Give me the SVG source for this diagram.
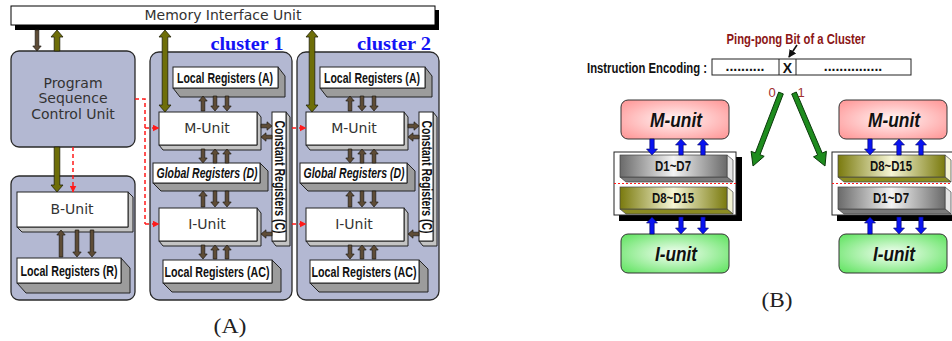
<svg xmlns="http://www.w3.org/2000/svg" width="952" height="341" viewBox="0 0 952 341">
<defs>
<style>
.unit{fill:#fff;stroke:#222;stroke-width:1}
.ext{fill:#9c9c9c;stroke:#222;stroke-width:1;stroke-linejoin:round}
.extl{fill:#c4c4c4;stroke:#222;stroke-width:1;stroke-linejoin:round}
.panel{fill:#b3b8d2;stroke:#2a2a2a;stroke-width:1.3}
.lbl{font-family:"DejaVu Sans",Verdana,sans-serif;font-size:14px;fill:#333;text-anchor:middle}
.reg{font-family:"Liberation Sans",Arial,sans-serif;font-weight:bold;font-size:14px;fill:#111;text-anchor:middle}
.brown{fill:#5e4c36;stroke:#1e1a12;stroke-width:.7}
.olive{fill:#6e6e08;stroke:#22220a;stroke-width:.8}
.blue{fill:#0a14f0;stroke:#000060;stroke-width:.6}
.ctl{fill:none;stroke:#ff1a1a;stroke-width:1.5;stroke-dasharray:4 3}
.cl{font-family:"Liberation Serif","Times New Roman",serif;font-weight:bold;font-size:18px;fill:#1414f5;text-anchor:middle}
.cap{font-family:"Liberation Serif","Times New Roman",serif;font-size:20px;fill:#222;text-anchor:middle}
.fu{font-family:"Liberation Sans",Arial,sans-serif;font-weight:bold;font-style:italic;font-size:20px;fill:#111;text-anchor:middle}
.green{fill:#1e8c1e;stroke:#0a3a0a;stroke-width:1;stroke-linejoin:round}
.bit{font-family:"Liberation Sans",Arial,sans-serif;font-size:13px;fill:#a03030;text-anchor:middle}
</style>
<marker id="rh" markerWidth="7" markerHeight="7" refX="6.5" refY="3.5" orient="auto" markerUnits="userSpaceOnUse"><path d="M0,0 L7,3.5 L0,7 z" fill="#ff1a1a"/></marker>
<marker id="kh" markerWidth="8" markerHeight="8" refX="7" refY="4" orient="auto" markerUnits="userSpaceOnUse"><path d="M0,0 L8,4 L0,8 z" fill="#111"/></marker>
<!-- brown bus arrows: d = down (tip at bottom), u = up (tip at origin) -->
<path id="bd14" class="brown" d="M-1.8,0 h3.6 v9 h2.4 l-4.2,5 l-4.2,-5 h2.4 z"/>
<path id="bu14" class="brown" d="M0,0 l4.2,5 h-2.4 v9 h-3.6 v-9 h-2.4 z"/>
<path id="bd15" class="brown" d="M-1.8,0 h3.6 v10 h2.4 l-4.2,5 l-4.2,-5 h2.4 z"/>
<path id="bu15" class="brown" d="M0,0 l4.2,5 h-2.4 v10 h-3.6 v-10 h-2.4 z"/>
<path id="bd16" class="brown" d="M-1.8,0 h3.6 v11 h2.4 l-4.2,5 l-4.2,-5 h2.4 z"/>
<path id="bu16" class="brown" d="M0,0 l4.2,5 h-2.4 v11 h-3.6 v-11 h-2.4 z"/>
<path id="bd27" class="brown" d="M-1.8,0 h3.6 v22 h2.4 l-4.2,5 l-4.2,-5 h2.4 z"/>
<path id="bu27" class="brown" d="M0,0 l4.2,5 h-2.4 v22 h-3.6 v-22 h-2.4 z"/>
<path id="br11" class="brown" d="M0,0 l-5,-4.2 v2.4 h-6 v3.6 h6 v2.4 z"/>
<path id="bl11" class="brown" d="M0,0 l5,-4.2 v2.4 h6 v3.6 h-6 v2.4 z"/>
<!-- blue register-port arrows -->
<path id="qd16" class="blue" d="M-2.2,0 h4.4 v10 h3.3 l-5.5,6 l-5.5,-6 h3.3 z"/>
<path id="qu16" class="blue" d="M0,0 l5.5,6 h-3.3 v10 h-4.4 v-10 h-3.3 z"/>
<path id="qd17" class="blue" d="M-2.2,0 h4.4 v11 h3.3 l-5.5,6 l-5.5,-6 h3.3 z"/>
<path id="qu17" class="blue" d="M0,0 l5.5,6 h-3.3 v11 h-4.4 v-11 h-3.3 z"/>
<linearGradient id="gGray" x1="0" y1="0" x2="1" y2="0"><stop offset="0" stop-color="#6a6a6a"/><stop offset=".5" stop-color="#f4f4f4"/><stop offset="1" stop-color="#6a6a6a"/></linearGradient>
<linearGradient id="gOlive" x1="0" y1="0" x2="1" y2="0"><stop offset="0" stop-color="#7a7a0e"/><stop offset=".5" stop-color="#f6f6d6"/><stop offset="1" stop-color="#7a7a0e"/></linearGradient>
<radialGradient id="gPink" cx=".5" cy=".5" r=".65"><stop offset="0" stop-color="#fff6f6"/><stop offset="1" stop-color="#ff9a9a"/></radialGradient>
<radialGradient id="gGreen" cx=".5" cy=".5" r=".65"><stop offset="0" stop-color="#f6fff6"/><stop offset="1" stop-color="#66e466"/></radialGradient>
</defs>

<rect width="952" height="341" fill="#fff"/>

<!-- ===== (A) processor organisation ===== -->
<g id="memory-interface-unit">
<rect x="15" y="10" width="424" height="20" fill="#000"/>
<rect x="11" y="6" width="424" height="19" fill="#fff" stroke="#000"/>
<text class="lbl" x="223" y="20">Memory Interface Unit</text>
</g>

<g id="program-sequence-control-unit">
<rect class="panel" x="11" y="51" width="124" height="96" rx="8"/>
<text class="lbl" x="73" y="88">Program</text>
<text class="lbl" x="73" y="103">Sequence</text>
<text class="lbl" x="73" y="119">Control Unit</text>
</g>

<g id="branch-cluster">
<rect class="panel" x="11" y="176" width="124" height="124" rx="8"/>
</g>
<g id="b-unit">
<polygon class="extl" points="128,192 133,197 133,232 22,232 17,227 128,227"/>
<rect class="unit" x="17" y="192" width="111" height="35"/>
<text class="lbl" x="72" y="214">B-Unit</text>
</g>
<g id="local-registers-r">
<polygon class="ext" points="121,258 130,268 130,293 26,293 17,283 121,283"/>
<rect class="unit" x="17" y="258" width="104" height="25"/>
<text class="reg" x="69" y="276" textLength="97" lengthAdjust="spacingAndGlyphs">Local Registers (R)</text>
</g>

<!-- cluster 1 -->
<text class="cl" x="247" y="50" textLength="73" lengthAdjust="spacingAndGlyphs">cluster 1</text>
<g id="cluster-1">
<rect class="panel" x="150" y="52" width="142" height="248" rx="9"/>
</g>
<g id="c1-local-registers-a">
<polygon class="ext" points="278,67 285,76 285,97 180,97 173,88 278,88"/>
<rect class="unit" x="173" y="67" width="105" height="21"/>
<text class="reg" x="225" y="83" textLength="96" lengthAdjust="spacingAndGlyphs">Local Registers (A)</text>
</g>
<g id="c1-m-unit">
<polygon class="extl" points="257,112 261,117 261,150 163,150 159,145 257,145"/>
<rect class="unit" x="159" y="112" width="98" height="33"/>
<text class="lbl" x="207" y="133">M-Unit</text>
</g>
<g id="c1-global-registers-d">
<polygon class="ext" points="260,163 268,171 268,191 161,191 153,183 260,183"/>
<rect class="unit" x="153" y="163" width="107" height="20"/>
<text class="reg" x="207" y="178" font-style="italic" textLength="101" lengthAdjust="spacingAndGlyphs">Global Registers (D)</text>
</g>
<g id="c1-i-unit">
<polygon class="extl" points="257,208 261,213 261,246 163,246 159,241 257,241"/>
<rect class="unit" x="159" y="208" width="98" height="33"/>
<text class="lbl" x="207" y="229">I-Unit</text>
</g>
<g id="c1-local-registers-ac">
<polygon class="ext" points="272,260 281,269 281,292 172,292 163,283 272,283"/>
<rect class="unit" x="163" y="260" width="109" height="23"/>
<text class="reg" x="217" y="277" textLength="105" lengthAdjust="spacingAndGlyphs">Local Registers (AC)</text>
</g>
<g id="c1-constant-registers-c">
<polygon class="extl" points="286,112 290,117 290,246 276,246 272,241 286,241"/>
<rect class="unit" x="272" y="112" width="14" height="129"/>
<text class="reg" transform="translate(279.5,177) rotate(90)" x="0" y="5" textLength="113" lengthAdjust="spacingAndGlyphs">Constant Registers (C)</text>
</g>

<!-- cluster 2 -->
<text class="cl" x="394" y="50" textLength="74" lengthAdjust="spacingAndGlyphs">cluster 2</text>
<g id="cluster-2">
<rect class="panel" x="297" y="52" width="142" height="248" rx="9"/>
</g>
<g id="c2-local-registers-a" transform="translate(147,0)">
<polygon class="ext" points="278,67 285,76 285,97 180,97 173,88 278,88"/>
<rect class="unit" x="173" y="67" width="105" height="21"/>
<text class="reg" x="225" y="83" textLength="96" lengthAdjust="spacingAndGlyphs">Local Registers (A)</text>
</g>
<g id="c2-m-unit" transform="translate(147,0)">
<polygon class="extl" points="257,112 261,117 261,150 163,150 159,145 257,145"/>
<rect class="unit" x="159" y="112" width="98" height="33"/>
<text class="lbl" x="207" y="133">M-Unit</text>
</g>
<g id="c2-global-registers-d" transform="translate(147,0)">
<polygon class="ext" points="260,163 268,171 268,191 161,191 153,183 260,183"/>
<rect class="unit" x="153" y="163" width="107" height="20"/>
<text class="reg" x="207" y="178" font-style="italic" textLength="101" lengthAdjust="spacingAndGlyphs">Global Registers (D)</text>
</g>
<g id="c2-i-unit" transform="translate(147,0)">
<polygon class="extl" points="257,208 261,213 261,246 163,246 159,241 257,241"/>
<rect class="unit" x="159" y="208" width="98" height="33"/>
<text class="lbl" x="207" y="229">I-Unit</text>
</g>
<g id="c2-local-registers-ac" transform="translate(147,0)">
<polygon class="ext" points="272,260 281,269 281,292 172,292 163,283 272,283"/>
<rect class="unit" x="163" y="260" width="109" height="23"/>
<text class="reg" x="217" y="277" textLength="105" lengthAdjust="spacingAndGlyphs">Local Registers (AC)</text>
</g>
<g id="c2-constant-registers-c" transform="translate(147,0)">
<polygon class="extl" points="286,112 290,117 290,246 276,246 272,241 286,241"/>
<rect class="unit" x="272" y="112" width="14" height="129"/>
<text class="reg" transform="translate(279.5,177) rotate(90)" x="0" y="5" textLength="113" lengthAdjust="spacingAndGlyphs">Constant Registers (C)</text>
</g>

<g id="connectors-a">
<!-- memory buses -->
<path class="brown" d="M35.2,30 h3.6 v16 h2.4 l-4.2,5 l-4.2,-5 h2.4 z"/>
<path class="olive" d="M57,30 l6,7 h-3.2 v14 h-5.6 v-14 h-3.2 z"/>
<path class="olive" d="M54.2,147 h5.6 v38 h3.2 l-6,7 l-6,-7 h3.2 z"/>
<path class="olive" d="M165,30 l6,7 h-3.2 v68 h3.2 l-6,7 l-6,-7 h3.2 v-68 h-3.2 z"/>
<path class="olive" d="M312,30 l6,7 h-3.2 v68 h3.2 l-6,7 l-6,-7 h3.2 v-68 h-3.2 z"/>
<!-- B-Unit / Local Registers (R) -->
<use href="#bu27" x="61" y="230"/>
<use href="#bd27" x="77" y="230"/>
<use href="#bd27" x="92" y="230"/>
<!-- cluster register ports -->
<g id="ports-c1">
<use href="#bu15" x="203" y="96"/>
<use href="#bd15" x="215" y="96"/>
<use href="#bd15" x="227" y="96"/>
<use href="#bd14" x="203" y="149"/>
<use href="#bu14" x="215" y="149"/>
<use href="#bu14" x="227" y="149"/>
<use href="#bu16" x="203" y="191"/>
<use href="#bd16" x="215" y="191"/>
<use href="#bd16" x="227" y="191"/>
<use href="#bd14" x="203" y="245"/>
<use href="#bu14" x="215" y="245"/>
<use href="#bu14" x="227" y="245"/>
<use href="#br11" x="272" y="126"/>
<use href="#bl11" x="261" y="137"/>
<use href="#bl11" x="261" y="234"/>
</g>
<use href="#ports-c1" transform="translate(147,0)"/>
<!-- control signals -->
<path class="ctl" d="M135,99 H145 V224"/>
<path class="ctl" d="M145,128 H159" marker-end="url(#rh)"/>
<path class="ctl" d="M145,224 H159" marker-end="url(#rh)"/>
<path class="ctl" d="M73,147 V192" marker-end="url(#rh)"/>
<path class="ctl" d="M292,128 H306" marker-end="url(#rh)"/>
<path class="ctl" d="M292,224 H306" marker-end="url(#rh)"/>
</g>

<text class="cap" x="230" y="333" textLength="33" lengthAdjust="spacingAndGlyphs">(A)</text>

<!-- ===== (B) ping-pong register assignment ===== -->
<g id="instruction-encoding">
<text class="reg" x="647" y="73" textLength="120" lengthAdjust="spacingAndGlyphs">Instruction Encoding :</text>
<rect x="712" y="59" width="199" height="16" fill="#fff" stroke="#222"/>
<line x1="779" y1="59" x2="779" y2="75" stroke="#222"/>
<line x1="796" y1="59" x2="796" y2="75" stroke="#222"/>
<text class="reg" x="745" y="71" font-weight="normal" font-size="11">..........</text>
<text class="reg" x="787.5" y="72.5">X</text>
<text class="reg" x="853" y="71" font-weight="normal" font-size="11">...............</text>
</g>
<text class="reg" x="796" y="44" style="fill:#8b1616" textLength="139" lengthAdjust="spacingAndGlyphs">Ping-pong Bit of a Cluster</text>
<text class="bit" x="772" y="97">0</text>
<text class="bit" x="801" y="97">1</text>

<g id="left-m-unit">
<rect x="621" y="100" width="108" height="39" rx="7" fill="url(#gPink)" stroke="#333"/>
<text class="fu" x="676" y="127" textLength="52" lengthAdjust="spacingAndGlyphs">M-unit</text>
</g>
<g id="left-register-file">
<rect x="619" y="157" width="123" height="64" fill="#000"/>
<rect x="614" y="152" width="122" height="63" fill="#fff" stroke="#222"/>
<polygon points="727,155 733,160 733,182 727,177" fill="#e4e4e4" stroke="#444" stroke-width=".7"/>
<polygon points="620,177 727,177 733,182 626,182" fill="#7a7a7a" stroke="#444" stroke-width=".7"/>
<rect x="620" y="155" width="107" height="22" fill="url(#gGray)" stroke="#444" stroke-width=".7"/>
<text class="reg" x="673" y="171" textLength="36" lengthAdjust="spacingAndGlyphs">D1~D7</text>
<line x1="614" y1="183.5" x2="736" y2="183.5" stroke="#ff1a1a" stroke-dasharray="2 2"/>
<polygon points="727,187 733,192 733,214 727,209" fill="#f2f2d2" stroke="#444" stroke-width=".7"/>
<polygon points="620,209 727,209 733,214 626,214" fill="#8c8c22" stroke="#444" stroke-width=".7"/>
<rect x="620" y="187" width="107" height="22" fill="url(#gOlive)" stroke="#444" stroke-width=".7"/>
<text class="reg" x="673" y="203" textLength="42" lengthAdjust="spacingAndGlyphs">D8~D15</text>
</g>
<g id="left-i-unit">
<rect x="621" y="234" width="108" height="39" rx="7" fill="url(#gGreen)" stroke="#333"/>
<text class="fu" x="676" y="261" textLength="42" lengthAdjust="spacingAndGlyphs">I-unit</text>
</g>

<g id="right-m-unit">
<rect x="839" y="100" width="108" height="39" rx="7" fill="url(#gPink)" stroke="#333"/>
<text class="fu" x="894" y="127" textLength="52" lengthAdjust="spacingAndGlyphs">M-unit</text>
</g>
<g id="right-register-file">
<rect x="837" y="157" width="123" height="64" fill="#000"/>
<rect x="832" y="152" width="122" height="63" fill="#fff" stroke="#222"/>
<polygon points="945,155 951,160 951,182 945,177" fill="#f2f2d2" stroke="#444" stroke-width=".7"/>
<polygon points="838,177 945,177 951,182 844,182" fill="#8c8c22" stroke="#444" stroke-width=".7"/>
<rect x="838" y="155" width="107" height="22" fill="url(#gOlive)" stroke="#444" stroke-width=".7"/>
<text class="reg" x="891" y="171" textLength="42" lengthAdjust="spacingAndGlyphs">D8~D15</text>
<line x1="832" y1="183.5" x2="954" y2="183.5" stroke="#ff1a1a" stroke-dasharray="2 2"/>
<polygon points="945,187 951,192 951,214 945,209" fill="#e4e4e4" stroke="#444" stroke-width=".7"/>
<polygon points="838,209 945,209 951,214 844,214" fill="#7a7a7a" stroke="#444" stroke-width=".7"/>
<rect x="838" y="187" width="107" height="22" fill="url(#gGray)" stroke="#444" stroke-width=".7"/>
<text class="reg" x="891" y="203" textLength="36" lengthAdjust="spacingAndGlyphs">D1~D7</text>
</g>
<g id="right-i-unit">
<rect x="839" y="234" width="108" height="39" rx="7" fill="url(#gGreen)" stroke="#333"/>
<text class="fu" x="894" y="261" textLength="42" lengthAdjust="spacingAndGlyphs">I-unit</text>
</g>

<g id="connectors-b">
<line x1="797" y1="45" x2="789" y2="57" stroke="#111" stroke-width="1.6" marker-end="url(#kh)"/>
<polygon class="green" points="783.3,93.9 760,154.7 764.2,156.3 753,166 751.1,151.3 755.3,152.9 778.7,92.1"/>
<polygon class="green" points="796.3,92 822.2,153 826.4,151.3 825,166 813.5,156.8 817.6,155 791.7,94"/>
<use href="#qd16" x="652" y="139"/>
<use href="#qu16" x="681" y="139"/>
<use href="#qu16" x="703" y="139"/>
<use href="#qu17" x="652" y="217"/>
<use href="#qd17" x="681" y="217"/>
<use href="#qd17" x="703" y="217"/>
<use href="#qd16" x="870" y="139"/>
<use href="#qu16" x="899" y="139"/>
<use href="#qu16" x="921" y="139"/>
<use href="#qu17" x="870" y="217"/>
<use href="#qd17" x="899" y="217"/>
<use href="#qd17" x="921" y="217"/>
</g>

<text class="cap" x="777" y="307" textLength="31" lengthAdjust="spacingAndGlyphs">(B)</text>
</svg>
